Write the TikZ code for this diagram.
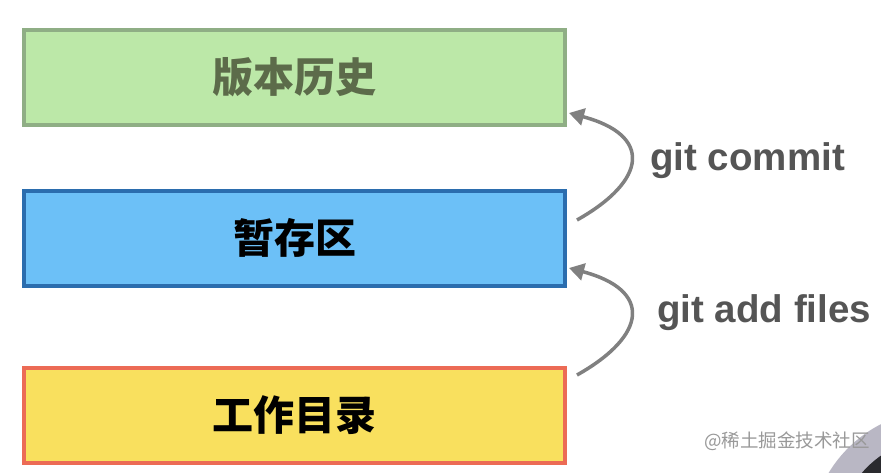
\documentclass[tikz,border=0pt]{standalone}
\usepackage{fontspec}
\setmainfont{Liberation Sans}
\newfontfamily\cjk{Noto Sans CJK SC}
\usetikzlibrary{arrows.meta}
\definecolor{gfill}{HTML}{BCE8A8}
\definecolor{gline}{HTML}{8FAE85}
\definecolor{gtext}{HTML}{5C6B4A}
\definecolor{bfill}{HTML}{6CC0F7}
\definecolor{bline}{HTML}{2B6DAE}
\definecolor{yfill}{HTML}{F9E05E}
\definecolor{yline}{HTML}{EC6B55}
\definecolor{arr}{HTML}{808080}
\definecolor{lbl}{HTML}{555555}
\definecolor{ring}{HTML}{B9B7C4}
\definecolor{avdark}{HTML}{2A2A2E}
\begin{document}
\begin{tikzpicture}[x=1pt,y=-1pt,
  stagebox/.style={draw, line width=4pt, minimum width=541pt, minimum height=95pt, inner sep=0pt, font=\cjk\bfseries\fontsize{41}{48}\selectfont},
  flow/.style={draw=arr, line width=3.5pt, -{Triangle[length=15pt,width=17pt]}},
  cmd/.style={font=\bfseries\fontsize{38.5}{44}\selectfont, text=lbl, anchor=west, inner sep=0pt}]
\useasboundingbox (0,0) rectangle (881,472);
\fill[white] (0,0) rectangle (881,472);
\begin{scope}
\clip (0,0) rectangle (881,472);
\fill[ring] (940,540) circle (130pt);
\fill[avdark] (940,540) circle (103pt);
\end{scope}
\node[stagebox, fill=gfill, draw=gline, text=gtext] (hist) at (294.5,77.5) {版本历史};
\node[stagebox, fill=bfill, draw=bline, text=black] (stage) at (294.5,238) {暂存区};
\node[stagebox, fill=yfill, draw=yline, text=black] (work) at (294.5,415) {工作目录};
\coordinate (s1) at (577,220);
\coordinate (e1) at (569,113);
\coordinate (s2) at (577,375);
\coordinate (e2) at (569,268);
\draw[flow] (s1) .. controls (648,180) and (652,135) .. (e1);
\draw[flow] (s2) .. controls (648,335) and (652,290) .. (e2);
\node[cmd] (c1) at (650,161) {git commit};
\node[cmd] (c2) at (657,313) {git add files};
\node[font=\cjk\fontsize{18.5}{22}\selectfont, text=black!40, anchor=east, inner sep=0pt] (wm) at (870,441) {@稀土掘金技术社区};
\end{tikzpicture}
\end{document}
